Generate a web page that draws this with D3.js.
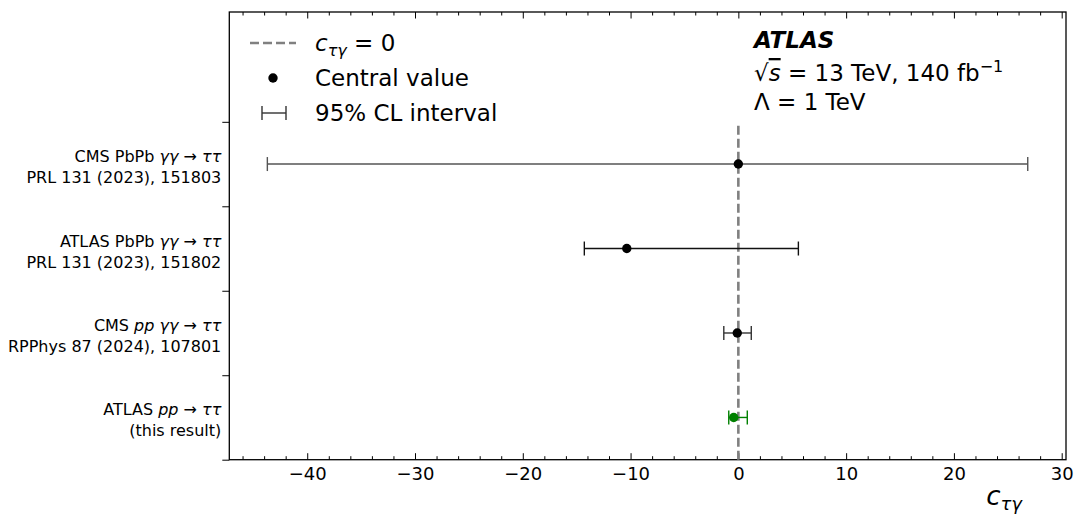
<!DOCTYPE html>
<html>
<head>
<meta charset="utf-8">
<script src="https://cdn.jsdelivr.net/npm/d3@7"></script>
<style>
  body { margin: 0; background: #fff; }
  text { font-family: "DejaVu Sans", sans-serif; fill: #000; }
</style>
</head>
<body>
<svg id="chart" width="1075" height="515"></svg>
<script>
// measurements, bottom row first ($...$ marks the italic math parts)
const labelTop = ["ATLAS $pp$ → $ττ$", "CMS $pp$ $γγ$ → $ττ$", "ATLAS PbPb $γγ$ → $ττ$", "CMS PbPb $γγ$ → $ττ$"];
const labelBottom = ["(this result)", "RPPhys 87 (2024), 107801", "PRL 131 (2023), 151802", "PRL 131 (2023), 151803"];
const centralValues = [-0.43, -0.1, -10.35, 0];
const lowerBounds = [-0.89, -1.35, -14.29, -43.7];
const upperBounds = [0.83, 1.2, 5.57, 26.85];
const barColors = ["#008000", "#333", "#111", "#555"];
const dotColors = ["#008000", "#000", "#000", "#000"];
const xTicks = [-40, -30, -20, -10, 0, 10, 20, 30];

const svg = d3.select("#chart");
const margin = {top: 12, right: 9, bottom: 55.3, left: 229.3};
const W = 1075, H = 515;

const x = d3.scaleLinear().domain([-47.23, 30.4]).range([margin.left, W - margin.right]);
const y = d3.scaleLinear().domain([0, 5.3]).range([H - margin.bottom, margin.top]);

// writes a label made of plain and $italic$ pieces as tspans
function richText(sel, str) {
    str.split("$").forEach((part, i) => {
        if (!part) return;
        sel.append("tspan").style("font-style", i % 2 ? "italic" : "normal").text(part);
    });
}

// x axis: major + minor ticks pointing inwards, bottom and top
const xMinor = d3.range(-46, 31, 2).filter(v => v % 10 !== 0);
svg.append("g").attr("class", "axis x-axis")
    .attr("transform", `translate(0,${y(0)})`)
    .call(d3.axisBottom(x).tickValues(xTicks).tickSizeInner(-6.5).tickSizeOuter(0).tickPadding(8))
    .style("font-size", "18px");
svg.append("g")
    .attr("transform", `translate(0,${y(0)})`)
    .call(d3.axisBottom(x).tickValues(xMinor).tickSizeInner(-3.5).tickSizeOuter(0).tickFormat(""));
svg.append("g")
    .attr("transform", `translate(0,${margin.top})`)
    .call(d3.axisTop(x).tickValues(xTicks).tickSizeInner(-6.5).tickSizeOuter(0).tickFormat(""));
svg.append("g")
    .attr("transform", `translate(0,${margin.top})`)
    .call(d3.axisTop(x).tickValues(xMinor).tickSizeInner(-3.5).tickSizeOuter(0).tickFormat(""));

// y axis: ticks between the rows, pointing out
svg.append("g")
    .attr("transform", `translate(${margin.left},0)`)
    .call(d3.axisLeft(y).tickValues([0, 1, 2, 3, 4]).tickSizeInner(7).tickSizeOuter(0).tickFormat(""));

svg.selectAll(".tick line").attr("stroke", "#000").attr("stroke-width", 1);
svg.selectAll(".domain").remove();

// frame
svg.append("rect")
    .attr("x", margin.left).attr("y", margin.top)
    .attr("width", W - margin.right - margin.left)
    .attr("height", y(0) - margin.top)
    .attr("fill", "none").attr("stroke", "#000").attr("stroke-width", 1.3);

// row labels
labelTop.forEach((lab, i) => {
    const t1 = svg.append("text")
        .attr("x", margin.left - 8).attr("y", y(i + 0.5) - 2)
        .attr("text-anchor", "end").style("font-size", "16px");
    richText(t1, lab);
    svg.append("text")
        .attr("x", margin.left - 8).attr("y", y(i + 0.5) + 19)
        .attr("text-anchor", "end").style("font-size", "16px")
        .text(labelBottom[i]);
});

// c = 0 reference line
svg.append("line")
    .attr("x1", x(0)).attr("x2", x(0))
    .attr("y1", y(0)).attr("y2", y(4))
    .attr("stroke", "#808080").attr("stroke-width", 2.6)
    .attr("stroke-dasharray", "9,4");

// error bars
const cap = 7;
const rows = centralValues.map((c, i) => ({c, lo: lowerBounds[i], hi: upperBounds[i], row: i + 0.5, color: barColors[i], dot: dotColors[i]}));
const eb = svg.append("g").attr("class", "errorbars");
rows.forEach(d => {
    const g = eb.append("g").attr("stroke", d.color).attr("stroke-width", 1.4);
    g.append("line").attr("x1", x(d.lo)).attr("x2", x(d.hi)).attr("y1", y(d.row)).attr("y2", y(d.row));
    g.append("line").attr("x1", x(d.lo)).attr("x2", x(d.lo)).attr("y1", y(d.row) - cap).attr("y2", y(d.row) + cap);
    g.append("line").attr("x1", x(d.hi)).attr("x2", x(d.hi)).attr("y1", y(d.row) - cap).attr("y2", y(d.row) + cap);
    eb.append("circle").attr("cx", x(d.c)).attr("cy", y(d.row)).attr("r", 4.7).attr("fill", d.dot);
});

// x label
const xl = svg.append("text").attr("x", 1022).attr("y", 505).attr("text-anchor", "end")
    .style("font-size", "26px").style("font-style", "italic");
xl.append("tspan").text("c");
xl.append("tspan").attr("dy", 5).style("font-size", "18px").text("τγ");

// legend
const leg = svg.append("g").attr("class", "legend");
leg.append("line").attr("x1", 250).attr("x2", 296).attr("y1", 43).attr("y2", 43)
    .attr("stroke", "#808080").attr("stroke-width", 2.6).attr("stroke-dasharray", "9,4");
const l1 = leg.append("text").attr("x", 315).attr("y", 51).style("font-size", "23px");
l1.append("tspan").style("font-style", "italic").text("c");
l1.append("tspan").attr("dy", 5).style("font-size", "16px").style("font-style", "italic").text("τγ");
l1.append("tspan").attr("dy", -5).text(" = 0");
leg.append("circle").attr("cx", 273).attr("cy", 78).attr("r", 4.7).attr("fill", "#000");
leg.append("text").attr("x", 315).attr("y", 86).style("font-size", "23px").text("Central value");
const lg = leg.append("g").attr("stroke", "#333").attr("stroke-width", 1.4);
lg.append("line").attr("x1", 262).attr("x2", 286).attr("y1", 113).attr("y2", 113);
lg.append("line").attr("x1", 262).attr("x2", 262).attr("y1", 106).attr("y2", 120);
lg.append("line").attr("x1", 286).attr("x2", 286).attr("y1", 106).attr("y2", 120);
leg.append("text").attr("x", 315).attr("y", 121).style("font-size", "23px").text("95% CL interval");

// experiment info
svg.append("text").attr("x", 754).attr("y", 48).style("font-size", "23px")
    .style("font-weight", "bold").style("font-style", "italic").text("ATLAS");
const s2 = svg.append("text").attr("x", 754).attr("y", 81).style("font-size", "23px");
s2.append("tspan").text("√");
s2.append("tspan").style("font-style", "italic").style("text-decoration", "overline").text("s");
s2.append("tspan").text(" = 13 TeV, 140 fb");
s2.append("tspan").attr("dy", -9).style("font-size", "16px").text("−1");
svg.append("text").attr("x", 754).attr("y", 110).style("font-size", "23px").text("Λ = 1 TeV");
</script>
</body>
</html>
